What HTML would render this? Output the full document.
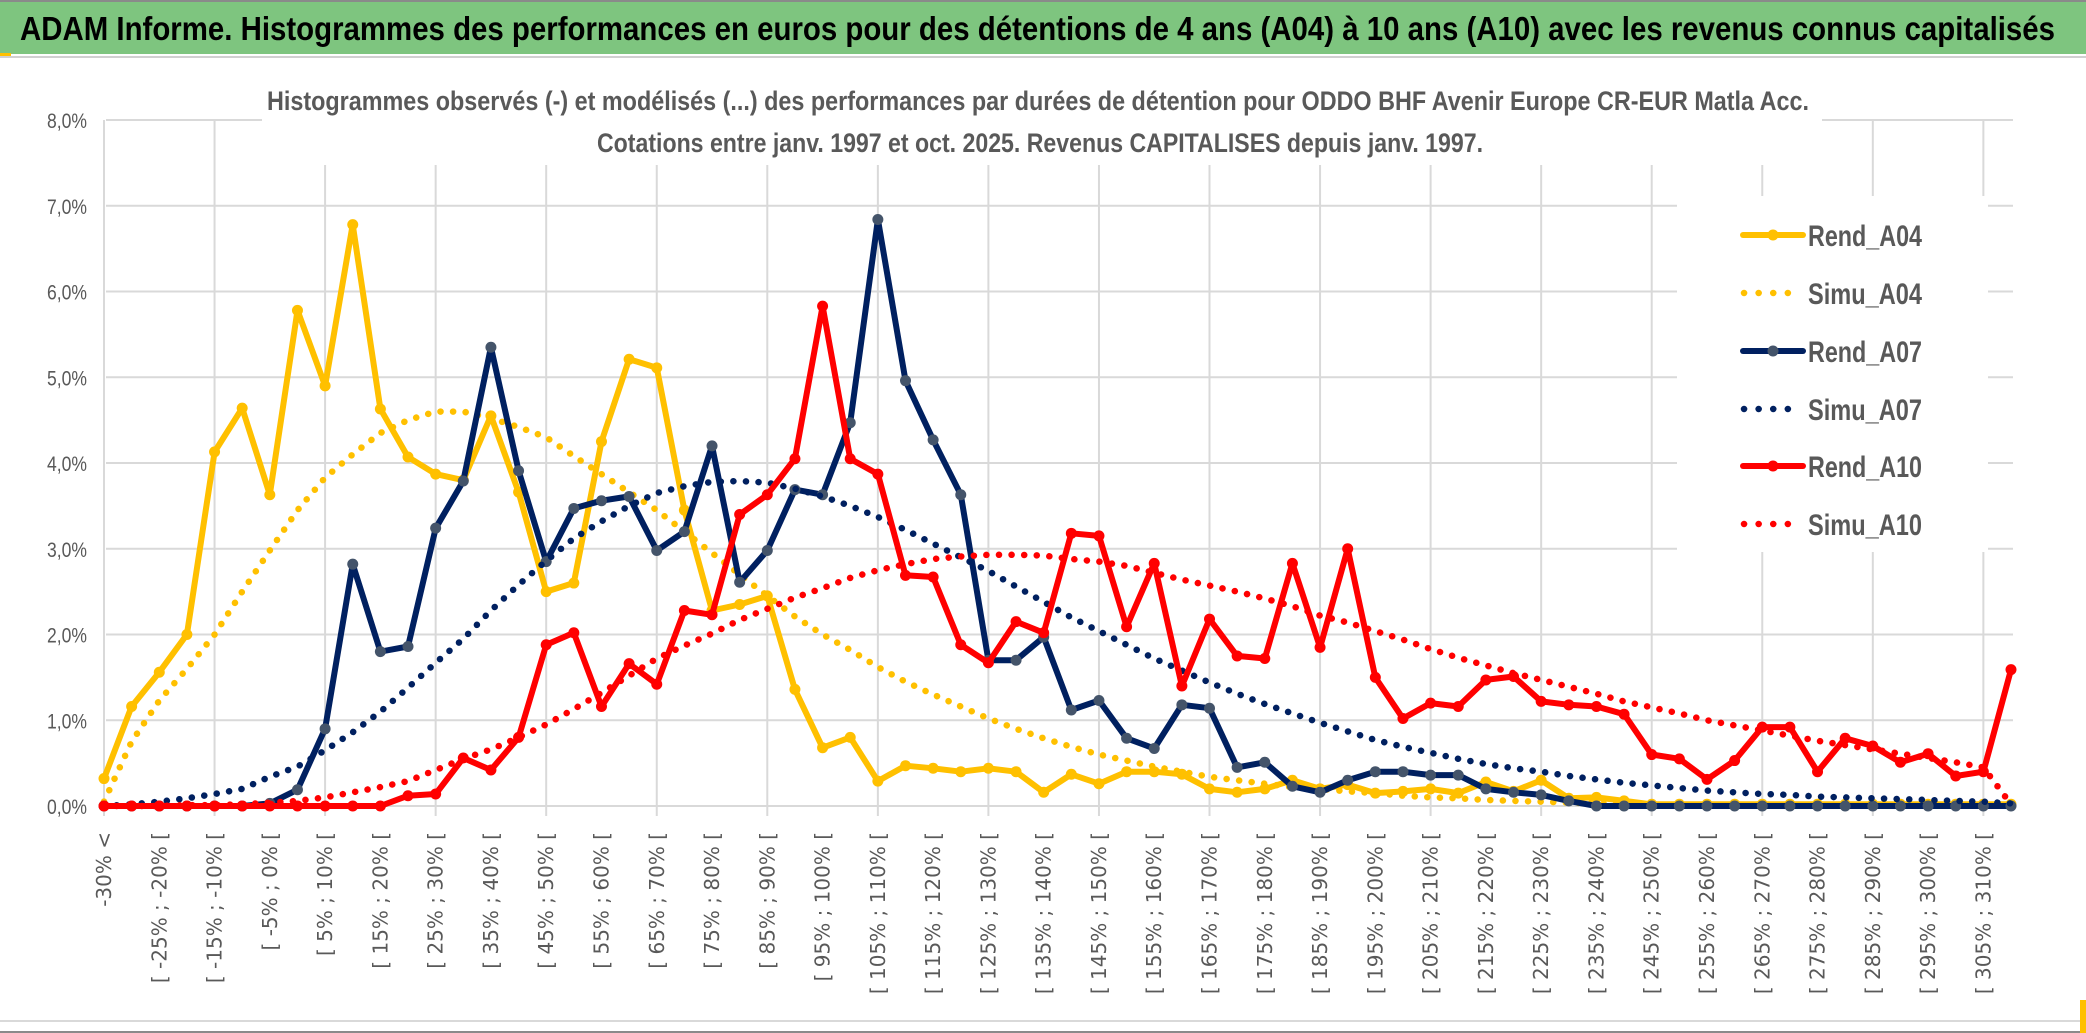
<!DOCTYPE html>
<html><head><meta charset="utf-8"><style>
html,body{margin:0;padding:0;background:#fff;}
svg{display:block;}
</style></head><body>
<svg id="chart" width="2086" height="1033" viewBox="0 0 2086 1033" xmlns="http://www.w3.org/2000/svg">
<rect x="0" y="0" width="2086" height="1033" fill="#fff"/>
<rect x="0" y="0" width="2086" height="2" fill="#8a8a8a"/>
<rect x="0" y="2" width="2086" height="52" fill="#7ec57f"/>
<rect x="0" y="53" width="11" height="4" fill="#ffc000"/>
<rect x="0" y="56" width="2086" height="2" fill="#d0d0d0"/>
<text x="20" y="40" font-family="'Liberation Sans Narrow','Liberation Sans',sans-serif" font-weight="bold" font-size="33" fill="#000" textLength="2035" lengthAdjust="spacingAndGlyphs">ADAM Informe. Histogrammes des performances en euros pour des détentions de 4 ans (A04) à 10 ans (A10) avec les revenus connus capitalisés</text>
<rect x="0" y="1020" width="2086" height="2" fill="#d9d9d9"/>
<rect x="0" y="1031" width="2086" height="2" fill="#8a8a8a"/>
<rect x="2080" y="1000" width="6" height="33" fill="#ffc000"/>
<g id="grid"></g>
<rect x="262" y="60" width="1560" height="105" fill="#fff"/>
<text x="1038" y="110" text-anchor="middle" font-family="'Liberation Sans Narrow','Liberation Sans',sans-serif" font-weight="bold" font-size="27" fill="#595959" textLength="1542" lengthAdjust="spacingAndGlyphs">Histogrammes observés (-) et modélisés (...) des performances par durées de détention pour ODDO BHF Avenir Europe CR-EUR Matla Acc.</text>
<text x="1040" y="152" text-anchor="middle" font-family="'Liberation Sans Narrow','Liberation Sans',sans-serif" font-weight="bold" font-size="27" fill="#595959" textLength="886" lengthAdjust="spacingAndGlyphs">Cotations entre janv. 1997 et oct. 2025. Revenus CAPITALISES depuis janv. 1997.</text>
<g id="yaxis"></g>
<g id="xaxis"></g>
<g id="series"></g>
<rect x="1677" y="196" width="311" height="356" fill="#fff"/>
<g id="legend"></g>
</svg>
<script>
const rendA04 = [0.32,1.16,1.56,2.0,4.13,4.64,3.63,5.78,4.9,6.78,4.63,4.07,3.87,3.8,4.55,3.66,2.5,2.6,4.25,5.21,5.11,3.45,2.28,2.35,2.45,1.36,0.68,0.8,0.29,0.47,0.44,0.4,0.44,0.4,0.16,0.37,0.26,0.4,0.4,0.37,0.2,0.16,0.2,0.3,0.2,0.25,0.15,0.17,0.2,0.15,0.28,0.17,0.3,0.09,0.1,0.06,0.02,0.02,0.02,0.02,0.02,0.02,0.02,0.02,0.02,0.02,0.02,0.02,0.02,0.02];
const simuA04 = [0.05,0.75,1.23,1.6,2.0,2.5,2.98,3.45,3.83,4.1,4.35,4.5,4.6,4.6,4.52,4.42,4.3,4.08,3.87,3.66,3.45,3.2,2.95,2.7,2.45,2.21,2.0,1.82,1.62,1.45,1.3,1.16,1.02,0.9,0.79,0.69,0.6,0.53,0.46,0.4,0.34,0.3,0.26,0.22,0.2,0.17,0.15,0.12,0.1,0.09,0.07,0.06,0.05,0.04,0.03,0.03,0.02,0.01,0.01,0.01,0.01,0.01,0.01,0.01,0.01,0.01,0.01,0.01,0.01,0.01];
const rendA07 = [0,0,0,0,0,0,0.03,0.19,0.9,2.82,1.8,1.86,3.24,3.79,5.35,3.91,2.85,3.47,3.56,3.61,2.98,3.2,4.2,2.61,2.98,3.69,3.63,4.47,6.84,4.96,4.27,3.63,1.7,1.7,1.97,1.12,1.23,0.79,0.67,1.18,1.14,0.45,0.51,0.23,0.16,0.3,0.4,0.4,0.36,0.36,0.2,0.16,0.13,0.06,0,0,0,0,0,0,0,0,0,0,0,0,0,0,0,0];
const simuA07 = [0,0.02,0.05,0.09,0.14,0.2,0.34,0.46,0.65,0.86,1.1,1.38,1.67,1.95,2.28,2.58,2.86,3.12,3.32,3.5,3.65,3.73,3.78,3.79,3.77,3.7,3.61,3.5,3.37,3.22,3.06,2.9,2.74,2.56,2.38,2.2,2.04,1.88,1.72,1.58,1.44,1.31,1.19,1.08,0.97,0.87,0.77,0.69,0.62,0.55,0.49,0.44,0.4,0.35,0.31,0.27,0.24,0.21,0.18,0.16,0.14,0.13,0.11,0.1,0.09,0.08,0.07,0.06,0.05,0.03];
const rendA10 = [0,0,0,0,0,0,0,0,0,0,0,0.12,0.14,0.56,0.42,0.8,1.88,2.02,1.16,1.66,1.42,2.28,2.23,3.4,3.63,4.05,5.83,4.05,3.87,2.69,2.67,1.88,1.67,2.15,2.02,3.18,3.15,2.09,2.83,1.4,2.18,1.75,1.72,2.83,1.85,3.0,1.5,1.02,1.2,1.16,1.47,1.51,1.22,1.18,1.16,1.07,0.6,0.55,0.31,0.53,0.92,0.92,0.4,0.79,0.7,0.51,0.61,0.35,0.4,1.59];
const simuA10 = [0,0,0,0.01,0.01,0.02,0.04,0.06,0.1,0.16,0.22,0.29,0.42,0.55,0.66,0.8,0.95,1.13,1.32,1.52,1.72,1.87,2.01,2.17,2.3,2.43,2.54,2.66,2.75,2.82,2.88,2.91,2.93,2.93,2.92,2.88,2.85,2.8,2.72,2.64,2.57,2.5,2.42,2.33,2.22,2.14,2.04,1.94,1.83,1.73,1.64,1.55,1.47,1.39,1.31,1.22,1.15,1.08,1.0,0.94,0.88,0.82,0.76,0.71,0.66,0.61,0.56,0.51,0.45,0.02];
const yTicks = [0,1,2,3,4,5,6,7,8];
const yTickLabels = ["0,0%","1,0%","2,0%","3,0%","4,0%","5,0%","6,0%","7,0%","8,0%"];
const categories = ["-30% <"];
for (let lo = -30; lo <= 310; lo += 5) categories.push("[ " + lo + "% ; " + (lo + 5) + "% [");
const legendLabels = ["Rend_A04","Simu_A04","Rend_A07","Simu_A07","Rend_A10","Simu_A10"];

const NS = "http://www.w3.org/2000/svg";
const X0 = 104, X1 = 2011, Y0 = 806, Y8 = 120;
const N = rendA04.length;
function xs(i){ return X0 + (X1 - X0) * i / (N - 1); }
function ys(v){ return Y0 - (Y0 - Y8) * v / 8; }
function mk(tag, attrs, parent){ const e = document.createElementNS(NS, tag); for (const k in attrs) e.setAttribute(k, attrs[k]); parent.appendChild(e); return e; }

const grid = document.getElementById('grid');
yTicks.forEach(function(t){
  const l = mk('line', {x1: X0 + 2, x2: X1 + 2, y1: ys(t), y2: ys(t), stroke: '#d9d9d9', 'stroke-width': 2}, grid);
  
  
});
for (let i = 0; i < N; i += 4) {
  const l = mk('line', {x1: xs(i), x2: xs(i), y1: Y8, y2: Y0 + 10, stroke: '#d9d9d9', 'stroke-width': 2}, grid);
  
  
}

const yaxis = document.getElementById('yaxis');
yTicks.forEach(function(t, k){
  const tx = mk('text', {x: 87, y: ys(t) + 8, 'text-anchor': 'end', 'font-family': "'Liberation Sans Narrow','Liberation Sans',sans-serif", 'font-size': 21, fill: '#595959', textLength: 40, lengthAdjust: 'spacingAndGlyphs'}, yaxis);
  tx.textContent = yTickLabels[k];
  
  
});

const xaxis = document.getElementById('xaxis');
for (let i = 0; i < N; i += 2) {
  const x = xs(i) + 7, y = 832;
  const tx = mk('text', {x: x, y: y, 'text-anchor': 'end', transform: 'rotate(-90 ' + x + ' ' + y + ')', 'font-family': "'DejaVu Sans',sans-serif", 'font-size': 20, fill: '#595959'}, xaxis);
  tx.textContent = categories[i];
  
  
}

const seriesG = document.getElementById('series');
function pathD(arr){ return arr.map(function(v, i){ return (i ? 'L' : 'M') + xs(i).toFixed(1) + ' ' + ys(v).toFixed(1); }).join(' '); }
function drawRend(arr, color, mcolor, name){
  const p = mk('path', {d: pathD(arr), fill: 'none', stroke: color, 'stroke-width': 6, 'stroke-linejoin': 'round'}, seriesG);
  
  
  arr.forEach(function(v, i){
    const c = mk('circle', {cx: xs(i), cy: ys(v), r: 5.5, fill: mcolor}, seriesG);
    
    
  });
}
function drawSimu(arr, color, name){
  const p = mk('path', {d: pathD(arr), fill: 'none', stroke: color, 'stroke-width': 6.5, 'stroke-linecap': 'round', 'stroke-dasharray': '0.1 12.5'}, seriesG);
  
  
}
drawRend(rendA04, '#ffc000', '#ffc000', 'rend-a04');
drawSimu(simuA04, '#ffc000', 'simu-a04');
drawRend(rendA07, '#002060', '#44546a', 'rend-a07');
drawSimu(simuA07, '#002060', 'simu-a07');
drawRend(rendA10, '#ff0000', '#ff0000', 'rend-a10');
drawSimu(simuA10, '#ff0000', 'simu-a10');

const legend = document.getElementById('legend');
const legColors = ['#ffc000','#ffc000','#002060','#002060','#ff0000','#ff0000'];
const legMarker = ['#ffc000',null,'#44546a',null,'#ff0000',null];
const legY = [235, 293, 351, 409, 466, 524];
legendLabels.forEach(function(lbl, k){
  const y = legY[k];
  if (legMarker[k]) {
    const l = mk('line', {x1: 1743, x2: 1803, y1: y, y2: y, stroke: legColors[k], 'stroke-width': 6, 'stroke-linecap': 'round'}, legend);
    
    
    const c = mk('circle', {cx: 1773, cy: y, r: 5.5, fill: legMarker[k]}, legend);
    
    
  } else {
    const l = mk('line', {x1: 1744, x2: 1802, y1: y, y2: y, stroke: legColors[k], 'stroke-width': 6.5, 'stroke-linecap': 'round', 'stroke-dasharray': '0.1 14.5'}, legend);
    
    
  }
  const t = mk('text', {x: 1808, y: y + 11, 'font-family': "'Liberation Sans Narrow','Liberation Sans',sans-serif", 'font-weight': 'bold', 'font-size': 30, fill: '#595959', textLength: 114, lengthAdjust: 'spacingAndGlyphs'}, legend);
  t.textContent = lbl;
  
  
});
</script>
</body></html>
